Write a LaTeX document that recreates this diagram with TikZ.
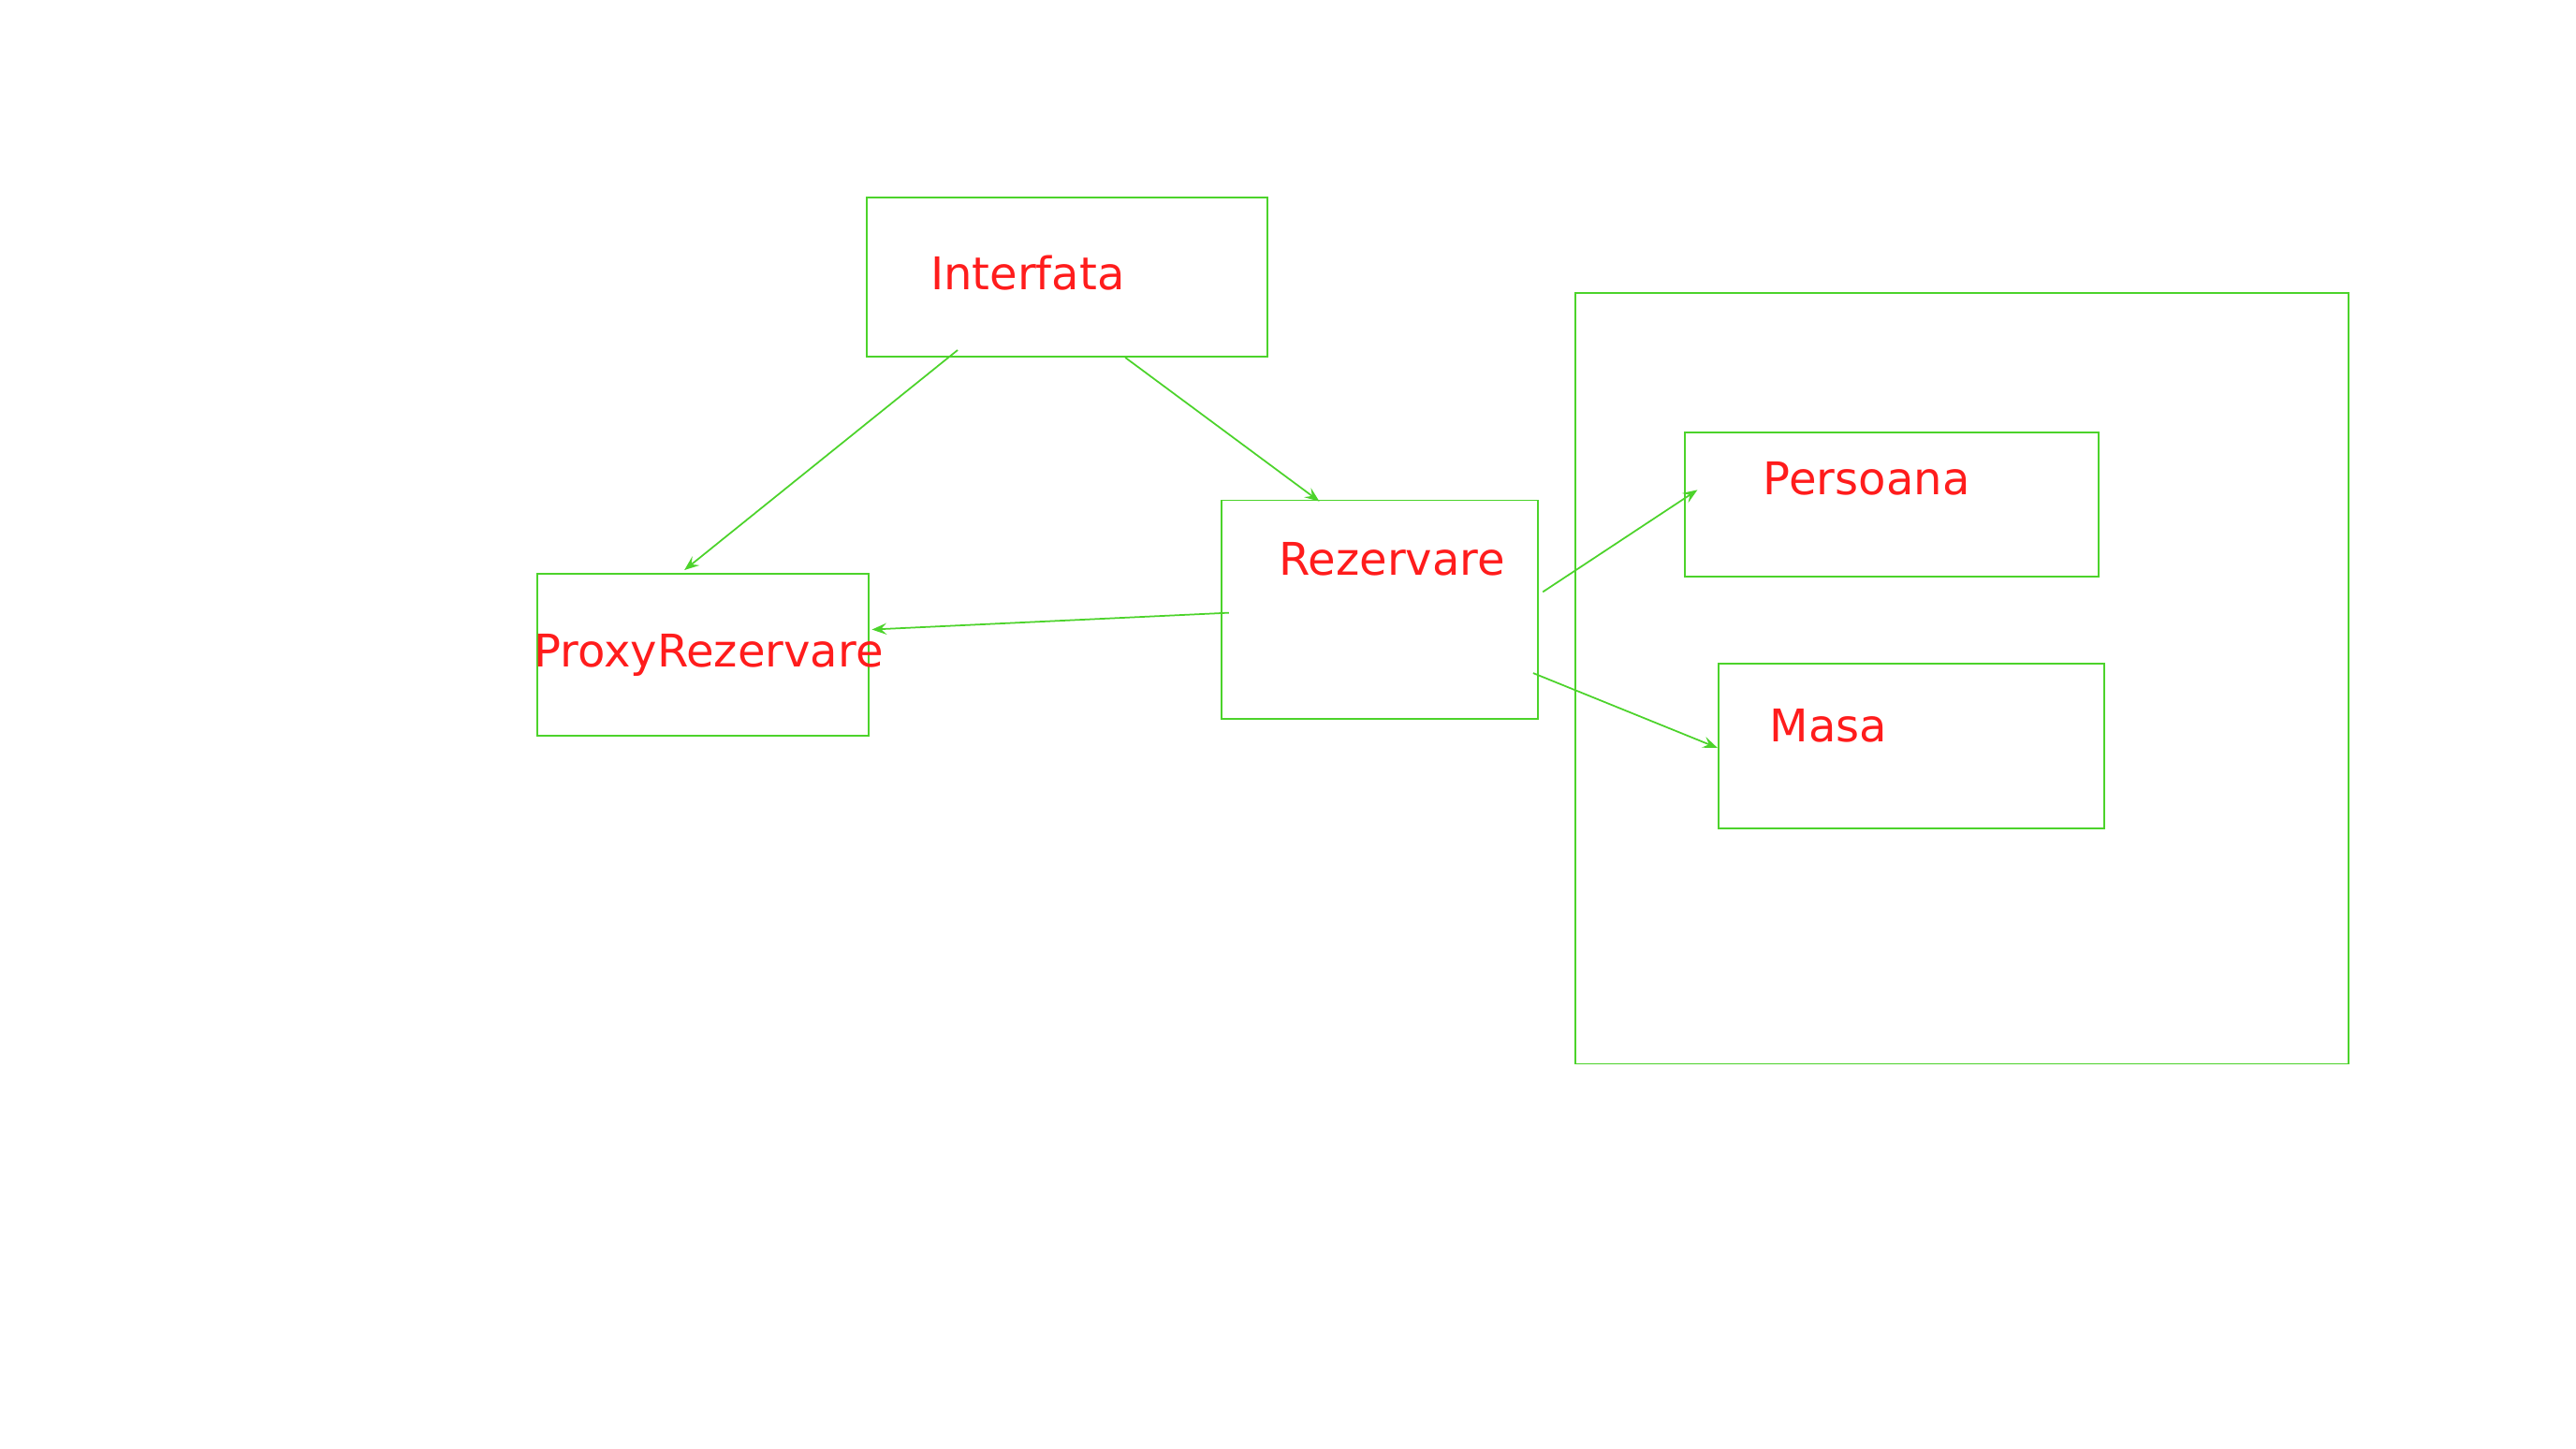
\documentclass[tikz,border=0pt]{standalone}
\usepackage{fontspec}
\setmainfont{DejaVu Sans}
\usetikzlibrary{arrows.meta}
\definecolor{boxgreen}{RGB}{76,211,43}
\definecolor{txtred}{RGB}{255,28,28}
\tikzset{
  box/.style={draw=boxgreen, line width=1.1pt, inner sep=0pt, anchor=north west},
  lbl/.style={text=txtred, inner sep=0pt, anchor=base west, font=\fontsize{27.4}{33}\selectfont},
  conn/.style={draw=boxgreen, line width=1pt, -{Stealth[length=9pt,width=7pt,inset=3.5pt]}}
}
\begin{document}
\begin{tikzpicture}[x=1pt,y=-1pt]
\useasboundingbox (0,0) rectangle (1568,882);
% boxes
\node[box, minimum width=243.6pt, minimum height=96.8pt] (interfata) at (527.3,119.6) {};
\node[box, minimum width=201.9pt, minimum height=98.5pt] (proxy) at (326.3,348.7) {};
\node[box, minimum width=192.6pt, minimum height=132.8pt] (rez) at (743,304) {};
\node[box, minimum width=471pt, minimum height=469pt] (grp) at (958.2,178) {};
\node[box, minimum width=252.3pt, minimum height=87.7pt] (pers) at (1024.8,262.5) {};
\node[box, minimum width=234.8pt, minimum height=100.3pt] (masa) at (1045.4,403.2) {};
% labels
\node[lbl] (tinterfata) at (566.2,176.3) {Interfata};
\node[lbl] (tproxy) at (324.7,406.2) {ProxyRezervare};
\node[lbl] (trez) at (778.3,350.1) {Rezervare};
\node[lbl] (tpers) at (1073.2,301.4) {Persoana};
\node[lbl] (tmasa) at (1077,451.4) {Masa};
% connector end points
\coordinate (a1) at (582.9,213.1);
\coordinate (b1) at (416.6,347.0);
\coordinate (a2) at (684.9,217.6);
\coordinate (b2) at (803.1,305.2);
\coordinate (a3) at (748,373);
\coordinate (b3) at (530.7,383.2);
\coordinate (a4) at (939.1,360.3);
\coordinate (b4) at (1033.2,298.2);
\coordinate (a5) at (933.2,409.7);
\coordinate (b5) at (1045.4,455.2);
% connectors
\draw[conn] (a1) -- (b1);
\draw[conn] (a2) -- (b2);
\draw[conn] (a3) -- (b3);
\draw[conn] (a4) -- (b4);
\draw[conn] (a5) -- (b5);
\end{tikzpicture}
\end{document}
